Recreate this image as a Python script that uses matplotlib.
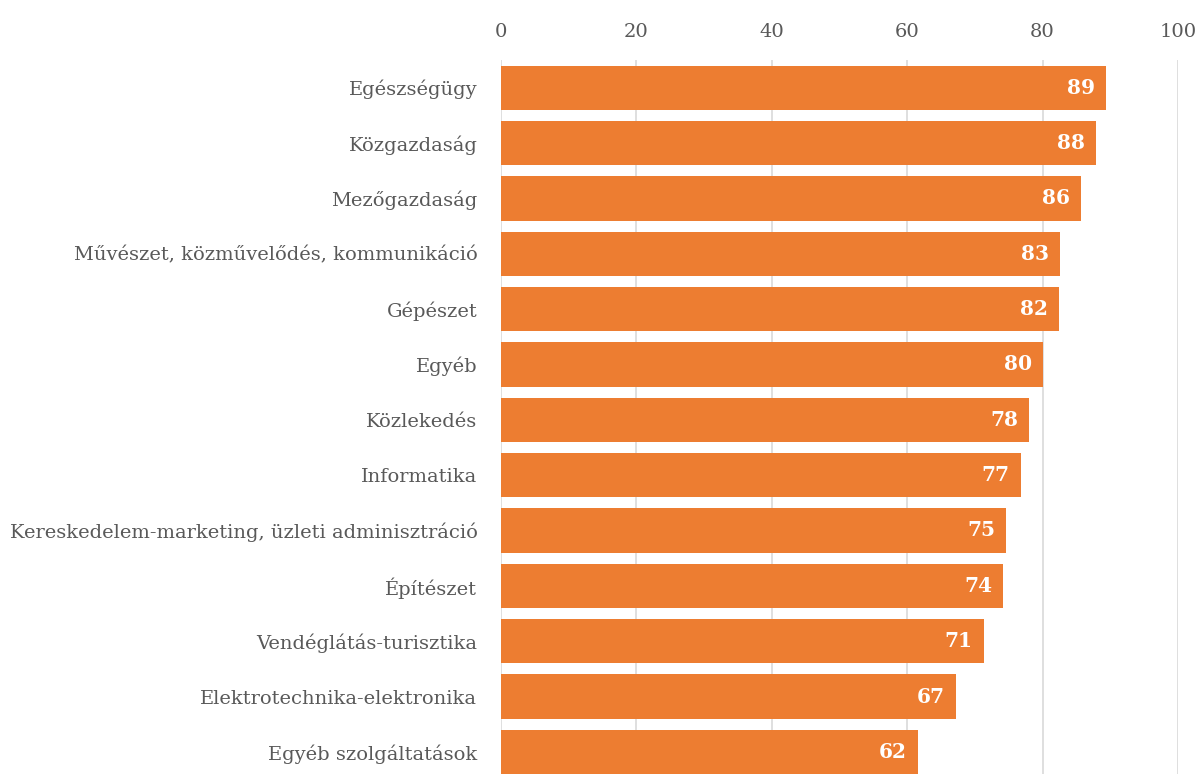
import matplotlib
matplotlib.use('Agg')
import matplotlib.pyplot as plt
import numpy as np

# Kategóriák és értékek
kategoriak = ['Egészségügy', 'Közgazdaság', 'Mezőgazdaság',
              'Művészet, közművelődés, kommunikáció', 'Gépészet', 'Egyéb',
              'Közlekedés', 'Informatika',
              'Kereskedelem-marketing, üzleti adminisztráció', 'Építészet',
              'Vendéglátás-turisztika', 'Elektrotechnika-elektronika',
              'Egyéb szolgáltatások']
ertekek = [89.4, 87.9, 85.7, 82.6, 82.4, 80.1, 78.0, 76.8, 74.6, 74.2, 71.3, 67.2, 61.6]
x_tickek = [0, 20, 40, 60, 80, 100]

narancs = '#ED7D31'
szurke = '#595959'
betu = 'DejaVu Serif'

fig = plt.figure(figsize=(12.01, 7.74), dpi=100)
ax = fig.add_axes([501 / 1201, 0, 677 / 1201, 714 / 774])

y = np.arange(len(kategoriak))
oszlopok = ax.barh(y, ertekek, height=0.8, color=narancs, zorder=3)

for o, v in zip(oszlopok, ertekek):
    ax.annotate(f'{v:.0f}', xy=(o.get_width(), o.get_y() + o.get_height() / 2),
                xytext=(-8, 0), textcoords='offset points', ha='right', va='center',
                color='white', fontsize=14.5, fontweight='bold', family=betu, zorder=4)

ax.set_xlim(0, 100)
ax.set_ylim(12.4, -0.5)
ax.set_xticks(x_tickek)
ax.set_yticks(y)
ax.set_yticklabels(kategoriak)
ax.xaxis.tick_top()
ax.tick_params(axis='both', length=0, colors=szurke, labelsize=14)
ax.tick_params(axis='x', pad=14)
ax.tick_params(axis='y', pad=17)
for lbl in ax.get_xticklabels() + ax.get_yticklabels():
    lbl.set_family(betu)

ax.grid(axis='x', color='#D9D9D9', linewidth=1.2, zorder=0)
for s in ax.spines.values():
    s.set_visible(False)

fig.savefig('out.png', dpi=100)
